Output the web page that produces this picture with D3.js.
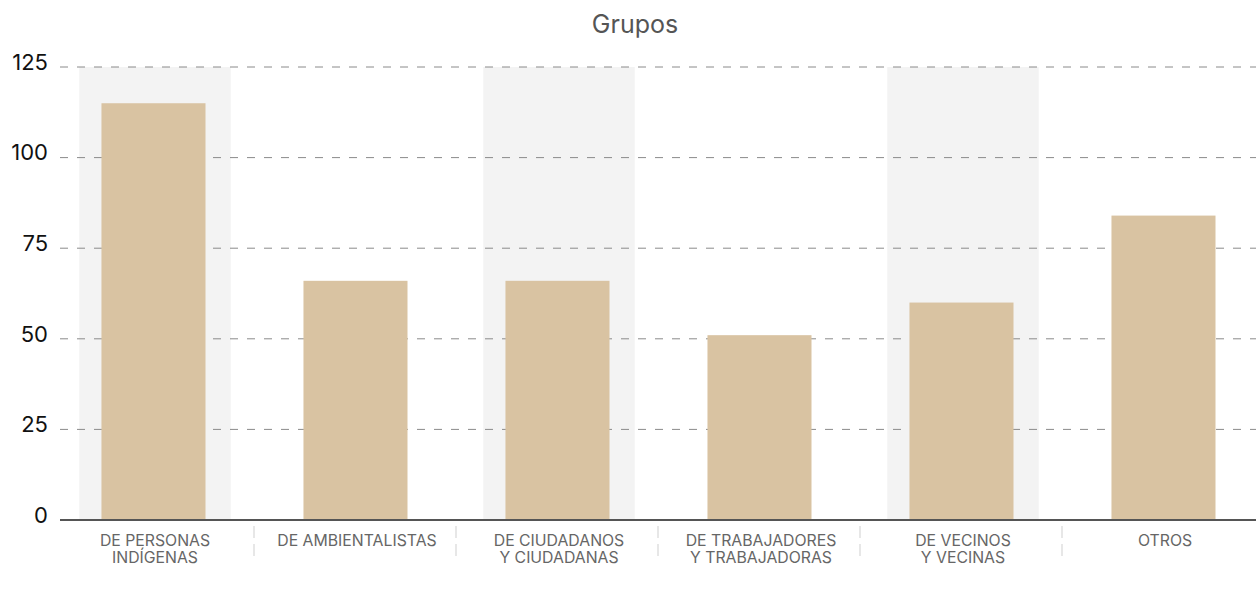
<!DOCTYPE html>
<html>
<head>
<meta charset="utf-8">
<script src="https://cdn.jsdelivr.net/npm/d3@7"></script>
<style>
  body { margin: 0; background: #fff; }
  svg { display: block; font-family: Inter, "Noto Sans", sans-serif; }
</style>
</head>
<body>
<svg width="1256" height="592"></svg>
<script>
const categories = [
  ['DE PERSONAS', 'INDÍGENAS'],
  ['DE AMBIENTALISTAS'],
  ['DE CIUDADANOS', 'Y CIUDADANAS'],
  ['DE TRABAJADORES', 'Y TRABAJADORAS'],
  ['DE VECINOS', 'Y VECINAS'],
  ['OTROS']
]
const values = [115, 66, 66, 51, 60, 84]
const yTicks = [0, 25, 50, 75, 100, 125]
const title = 'Grupos'

const svg = d3.select('svg')
const W = 1256

const x = d3.scaleBand()
  .domain(d3.range(categories.length))
  .range([54, 54 + 202 * categories.length])
const y = d3.scaleLinear().domain([0, 125]).range([520, 67])

// alternating grey bands
svg.append('g').selectAll('rect')
  .data(d3.range(categories.length).filter(i => i % 2 === 0))
  .join('rect')
  .attr('x', i => x(i) + x.bandwidth() * 0.125)
  .attr('width', x.bandwidth() * 0.75)
  .attr('y', y(125))
  .attr('height', y(0) - y(125))
  .attr('fill', '#f3f3f3')

// grid
svg.append('g').selectAll('line')
  .data(yTicks.filter(d => d > 0))
  .join('line')
  .attr('x1', 60).attr('x2', W)
  .attr('y1', d => y(d)).attr('y2', d => y(d))
  .attr('stroke', '#8a8a8a')
  .attr('stroke-width', 1)
  .attr('stroke-dasharray', '8,9')

svg.append('g').selectAll('text')
  .data(yTicks)
  .join('text')
  .attr('x', 48)
  .attr('y', d => y(d) - 5)
  .attr('text-anchor', 'end')
  .attr('dy', '0.35em')
  .attr('font-size', 22)
  .attr('fill', '#111')
  .text(d => d)

// bars
svg.append('g').selectAll('rect')
  .data(values)
  .join('rect')
  .attr('x', (d, i) => x(i) + x.bandwidth() * 0.235)
  .attr('width', x.bandwidth() * 0.515)
  .attr('y', d => y(d))
  .attr('height', d => y(0) - y(d))
  .attr('fill', '#d9c3a2')

// baseline
svg.append('line')
  .attr('x1', 60).attr('x2', W)
  .attr('y1', y(0)).attr('y2', y(0))
  .attr('stroke', '#555').attr('stroke-width', 2)

// dividers
svg.append('g').selectAll('line')
  .data(d3.range(1, categories.length))
  .join('line')
  .attr('x1', i => x(i) - 2).attr('x2', i => x(i) - 2)
  .attr('y1', 526).attr('y2', 562)
  .attr('stroke', '#cfcfcf')
  .attr('stroke-dasharray', '12,6')

// category labels
const lab = svg.append('g').selectAll('text')
  .data(categories)
  .join('text')
  .attr('x', (d, i) => x(i) + x.bandwidth() / 2)
  .attr('y', 546)
  .attr('text-anchor', 'middle')
  .attr('font-size', 15.8)
  .attr('fill', '#666')
lab.selectAll('tspan')
  .data(d => d)
  .join('tspan')
  .attr('x', function() { return this.parentNode.getAttribute('x') })
  .attr('dy', (d, i) => i ? 17 : 0)
  .text(d => d)

svg.append('text')
  .attr('x', 635).attr('y', 33)
  .attr('text-anchor', 'middle')
  .attr('font-size', 25)
  .attr('fill', '#555')
  .text(title)
</script>
</body>
</html>
